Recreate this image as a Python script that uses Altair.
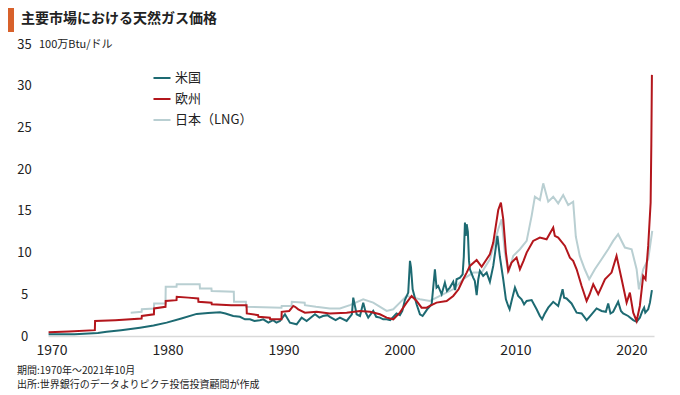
import altair as alt
import pandas as pd

TITLE = "主要市場における天然ガス価格"
UNIT = "100万Btu/ドル"
FOOT1 = "期間:1970年～2021年10月"
FOOT2 = "出所:世界銀行のデータよりピクテ投信投資顧問が作成"
SERIES = ["米国", "欧州", "日本（LNG）"]
COLORS = ["#1d6a72", "#b3161c", "#b9cfd2"]
X_TICKS = [1970, 1980, 1990, 2000, 2010, 2020]
Y_TICKS = [0, 5, 10, 15, 20, 25, 30, 35]

us_years = [1969.75, 1972.0, 1974.0, 1974.76, 1976.0, 1977.63, 1978.8, 1979.93, 1981.2, 1982.52,
            1983.5, 1984.53, 1985.0, 1985.67, 1986.25, 1986.68, 1987.11, 1987.5, 1987.97, 1988.26,
            1988.7, 1989.1, 1989.4, 1989.7, 1990.13, 1990.56, 1991.14, 1991.57, 1992.0, 1992.72,
            1993.1, 1993.4, 1993.8, 1994.0, 1994.5, 1994.87, 1995.45, 1995.9, 1996.02, 1996.31,
            1996.6, 1996.88, 1997.1, 1997.31, 1997.74, 1998.0, 1998.32, 1998.6, 1998.9, 1999.2,
            1999.47, 1999.75, 2000.04, 2000.25, 2000.47, 2000.76, 2000.91, 2001.0, 2001.14, 2001.48,
            2001.77, 2002.0, 2002.2, 2002.45, 2002.78, 2003.06, 2003.2, 2003.34, 2003.64, 2003.92,
            2004.1, 2004.35, 2004.64, 2004.8, 2004.93, 2005.22, 2005.45, 2005.55, 2005.65, 2005.72,
            2005.8, 2005.9, 2006.0, 2006.08, 2006.36, 2006.5, 2006.66, 2006.8, 2006.94, 2007.22,
            2007.52, 2007.8, 2008.09, 2008.3, 2008.45, 2008.66, 2008.95, 2009.18, 2009.38, 2009.5,
            2009.67, 2009.96, 2010.24, 2010.53, 2010.75, 2010.97, 2011.4, 2011.83, 2012.11, 2012.3,
            2012.5, 2012.83, 2013.26, 2013.69, 2014.07, 2014.2, 2014.41, 2014.84, 2015.28, 2015.71,
            2016.14, 2016.57, 2017.0, 2017.43, 2017.8, 2018.0, 2018.2, 2018.43, 2018.86, 2019.1,
            2019.29, 2019.72, 2020.16, 2020.45, 2020.73, 2020.95, 2021.1, 2021.2, 2021.45, 2021.6,
            2021.77]
us_values = [0.2, 0.2, 0.35, 0.5, 0.7, 1.0, 1.25, 1.6, 2.1, 2.65,
             2.75, 2.85, 2.7, 2.4, 2.3, 2.0, 2.0, 1.8, 1.9, 2.0,
             1.6, 1.9, 1.6, 1.8, 2.6, 1.6, 1.4, 2.2, 1.8, 2.6,
             2.2, 2.4, 2.5, 2.3, 1.9, 2.2, 1.8, 2.6, 4.6, 2.6,
             2.4, 4.0, 2.8, 2.2, 3.0, 2.3, 2.2, 2.0, 2.0, 1.9,
             2.3, 2.7, 2.5, 3.0, 4.3, 5.2, 9.0, 8.2, 5.6, 3.8,
             2.6, 2.4, 2.8, 3.3, 3.8, 8.0, 5.8, 6.0, 5.0, 6.4,
             5.4, 5.8, 6.5, 5.5, 6.8, 7.0, 7.4, 9.5, 13.6, 12.0,
             13.4, 12.5, 9.0, 8.0, 7.0, 6.6, 4.9, 6.8, 7.8, 7.2,
             7.6, 6.5, 8.4, 10.5, 12.0, 9.5, 6.8, 4.4, 3.6, 3.2,
             4.2, 5.8, 4.8, 4.4, 3.8, 4.2, 4.3, 3.2, 2.4, 2.0,
             2.6, 3.4, 4.1, 3.6, 5.6, 4.6, 4.5, 3.9, 2.8, 2.7,
             1.9, 2.6, 3.3, 3.0, 2.9, 3.9, 2.7, 2.9, 4.1, 3.0,
             2.7, 2.4, 1.9, 1.7, 2.2, 3.0, 3.4, 2.8, 3.2, 4.0,
             5.5]

eu_years = [1969.75, 1971.5, 1973.74, 1973.76, 1975.5, 1977.77, 1977.79, 1978.83, 1978.85, 1979.83,
            1979.85, 1980.78, 1980.8, 1981.8, 1982.65, 1982.67, 1983.8, 1983.82, 1985.5, 1986.82,
            1986.84, 1987.82, 1987.84, 1988.83, 1988.85, 1989.83, 1989.85, 1990.5, 1990.85, 1991.0,
            1991.28, 1991.85, 1992.86, 1994.0, 1995.45, 1996.6, 1997.46, 1998.32, 1998.9, 1999.47,
            2000.04, 2000.62, 2001.05, 2001.48, 2001.91, 2002.35, 2002.63, 2003.2, 2004.07, 2004.64,
            2005.1, 2005.5, 2005.8, 2006.08, 2006.66, 2007.09, 2007.52, 2007.8, 2008.09, 2008.52,
            2008.75, 2008.95, 2009.18, 2009.38, 2009.67, 2010.1, 2010.39, 2010.7, 2010.97, 2011.53,
            2012.11, 2012.69, 2013.26, 2013.4, 2013.69, 2014.27, 2014.7, 2014.98, 2015.28, 2015.71,
            2016.14, 2016.4, 2016.71, 2017.14, 2017.4, 2017.72, 2018.29, 2018.72, 2019.16, 2019.59,
            2019.87, 2020.16, 2020.45, 2020.73, 2021.02, 2021.22, 2021.45, 2021.66, 2021.72, 2021.77]
eu_values = [0.45, 0.55, 0.7, 1.8, 1.9, 2.1, 2.4, 2.6, 3.3, 3.5,
             4.2, 4.3, 4.7, 4.6, 4.5, 4.1, 4.0, 3.8, 3.7, 3.7,
             2.7, 2.5, 2.3, 2.2, 2.0, 2.0, 2.9, 3.0, 3.6, 3.5,
             3.2, 2.8, 2.9, 2.7, 2.8, 3.0, 2.9, 2.6, 2.2, 2.0,
             2.8, 4.0, 4.8, 4.2, 3.4, 3.4, 3.6, 4.0, 4.2, 4.8,
             5.6, 6.8, 7.6, 8.4, 9.1, 8.3, 9.2, 9.8, 11.2, 15.1,
             16.0, 14.0, 10.0, 7.8, 8.8, 9.4, 8.0, 9.0, 10.0, 11.4,
             11.8, 11.6, 13.0, 12.0, 11.8, 10.8, 9.4, 9.0, 8.0, 6.0,
             4.2, 5.0, 6.2, 5.0, 5.8, 6.8, 7.6, 9.6, 6.8, 4.0,
             5.2, 2.8, 1.8, 3.6, 7.2, 6.8, 10.8, 16.0, 23.0, 31.3]

jp_years = [1976.83, 1977.77, 1977.79, 1978.83, 1978.85, 1979.83, 1979.85, 1980.78, 1980.8, 1982.78,
            1982.8, 1983.79, 1983.81, 1985.72, 1985.74, 1986.76, 1986.78, 1989.83, 1989.85, 1990.7,
            1990.72, 1991.83, 1991.85, 1992.8, 1994.0, 1994.87, 1995.73, 1996.88, 1997.74, 1998.9,
            1999.47, 2000.04, 2000.62, 2001.19, 2001.77, 2002.63, 2003.49, 2004.64, 2005.5, 2006.36,
            2007.09, 2007.8, 2008.52, 2008.81, 2009.09, 2009.4, 2009.81, 2010.39, 2010.97, 2011.4,
            2011.68, 2012.11, 2012.4, 2012.83, 2013.26, 2013.69, 2014.12, 2014.55, 2014.98, 2015.21,
            2015.55, 2015.98, 2016.36, 2016.85, 2017.43, 2018.0, 2018.43, 2018.86, 2019.44, 2020.02,
            2020.45, 2020.65, 2021.02, 2021.45, 2021.8]
jp_values = [2.8, 2.9, 3.2, 3.3, 3.9, 3.9, 5.9, 5.9, 6.2, 6.2,
             5.7, 5.7, 5.4, 5.3, 4.1, 4.1, 3.5, 3.4, 3.6, 3.6,
             4.1, 4.0, 3.7, 3.5, 3.3, 3.3, 3.7, 4.4, 4.0, 3.0,
             3.2, 4.0, 4.8, 4.6, 4.4, 4.2, 4.8, 5.6, 6.8, 7.6,
             7.6, 9.2, 12.8, 14.0, 10.0, 7.6, 9.6, 10.4, 11.4, 14.4,
             16.7, 16.3, 18.3, 16.1, 16.7, 15.9, 16.9, 15.7, 16.1, 11.9,
             9.6, 8.0, 6.8, 8.0, 9.2, 10.4, 11.4, 12.2, 10.6, 10.4,
             8.0, 5.6, 8.0, 9.2, 12.6]

frames = []
for name, yrs, vals in [(SERIES[0], us_years, us_values),
                        (SERIES[1], eu_years, eu_values),
                        (SERIES[2], jp_years, jp_values)]:
    frames.append(pd.DataFrame({"year": yrs, "value": vals, "series": name}))
df = pd.concat(frames, ignore_index=True)

FONT = "Noto Sans CJK JP"

x_enc = alt.X("year:Q",
              scale=alt.Scale(domain=[1969.7, 2021.95], nice=False, zero=False),
              axis=alt.Axis(values=X_TICKS, format="d", title=None, grid=False, ticks=False,
                            tickSize=0, labelFontSize=14, labelPadding=7, labelColor="#222222",
                            domainColor="#d9d9d9", domainWidth=1.5, labelFlush=False))
y_enc = alt.Y("value:Q",
              scale=alt.Scale(domain=[0, 35], nice=False),
              axis=alt.Axis(values=Y_TICKS, title=None, grid=False, ticks=False, tickSize=0,
                            domain=False, labelFontSize=13, labelAlign="center",
                            labelPadding=24, labelColor="#222222"))
color_enc = alt.Color("series:N",
                      scale=alt.Scale(domain=SERIES, range=COLORS),
                      legend=alt.Legend(title=None, orient="none", legendX=104, legendY=24,
                                        symbolType="stroke", symbolSize=290,
                                        symbolStrokeWidth=2, labelFontSize=13,
                                        labelFont=FONT, labelColor="#222222",
                                        rowPadding=4, labelOffset=3, padding=0))

def series_layer(name):
    return (alt.Chart(df)
            .transform_filter(alt.datum.series == name)
            .mark_line(strokeWidth=2)
            .encode(x=x_enc, y=y_enc, color=color_enc))

layers = [series_layer(SERIES[2]), series_layer(SERIES[0]), series_layer(SERIES[1])]

bar = alt.Chart(pd.DataFrame({"k": [0]})).mark_rect(color="#d8612b").encode(
    x=alt.value(-41), x2=alt.value(-34), y=alt.value(-39), y2=alt.value(-12))

def text_layer(txt, x, y, size, weight="normal"):
    return alt.Chart(pd.DataFrame({"t": [txt]})).mark_text(
        align="left", baseline="middle", fontSize=size, font=FONT, fontWeight=weight,
        color="#222222").encode(text="t:N", x=alt.value(x), y=alt.value(y))

texts = [
    text_layer(TITLE, -27, -25, 14, "bold"),
    text_layer(UNIT, -9, 1, 11),
    text_layer(FOOT1, -31, 327, 10),
    text_layer(FOOT2, -31, 341, 10),
]

chart = alt.layer(*layers, bar, *texts).properties(
    width=606, height=292,
    autosize=alt.AutoSizeParams(type="none"),
    padding={"left": 40, "top": 36, "right": 18, "bottom": 58},
).configure_view(stroke=None).configure_axis(labelFont=FONT)

chart.save("out.html", embed_options={"renderer": "svg", "actions": False})
